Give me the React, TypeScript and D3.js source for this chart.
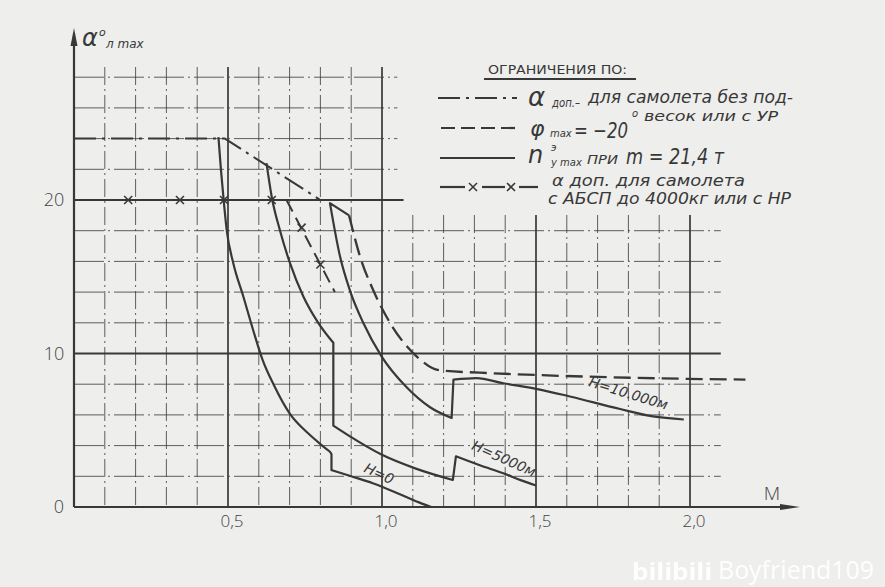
import React from 'react';
import * as d3 from 'd3';

const W = 885;
const H = 587;

// axis ticks
const machTicks = [0.5, 1.0, 1.5, 2.0];
const machTickLabels = ['0,5', '1,0', '1,5', '2,0'];
const alphaTicks = [0, 10, 20];
const alphaTickLabels = ['0', '10', '20'];

// limit: alpha allowed, clean aircraft or with UR (dash-dot)
const alphaDopPts = [[0, 24], [0.49, 24], [0.8, 20]];
// limit: alpha allowed with ABSP up to 4000 kg or NR (x-line)
const abspPts = [[0, 20], [0.69, 20], [0.847, 14.0]];
const abspMarks = [[0.176, 20], [0.344, 20], [0.487, 20], [0.642, 20], [0.739, 18.2], [0.8, 15.8]];
// limit: phi max = -20 deg (dashed)
const phiMaxPts = [[0.893, 19.0], [0.929, 16.3], [0.972, 14.1], [1.026, 12.0], [1.113, 9.8], [1.188, 8.9], [1.318, 8.75], [1.5, 8.6], [1.99, 8.35], [2.18, 8.3]];
// limit: ny max at m = 21.4 t, pieces joined by straight jumps
const h0Pieces = [
  [[0.469, 24.1], [0.477, 22], [0.485, 20.2], [0.496, 18], [0.517, 15.9], [0.55, 13.7], [0.582, 11.5], [0.612, 9.6], [0.65, 7.9], [0.7, 6.1], [0.76, 4.8], [0.8, 4.1], [0.831, 3.6]],
  [[0.836, 3.45], [0.836, 2.4]],
  [[0.837, 2.4], [0.9, 2.0], [0.97, 1.55], [1.05, 0.9], [1.12, 0.3], [1.16, 0]],
];
const h5000Pieces = [
  [[0.625, 22.4], [0.642, 20.2], [0.669, 18], [0.701, 15.9], [0.745, 13.7], [0.793, 12], [0.842, 10.7]],
  [[0.842, 5.3], [0.896, 4.6], [1.0, 3.4], [1.11, 2.5], [1.23, 1.76]],
  [[1.24, 3.3], [1.32, 2.7], [1.394, 2.2], [1.45, 1.75], [1.5, 1.4]],
];
const h10000Pieces = [
  [[0.893, 19.0], [0.831, 19.8]],
  [[0.831, 19.8], [0.864, 16.3], [0.896, 14.1], [0.939, 12.0], [0.999, 9.8], [1.08, 7.8], [1.156, 6.5], [1.226, 5.8]],
  [[1.232, 8.3], [1.307, 8.4], [1.394, 8.06], [1.5, 7.7], [1.61, 7.2], [1.77, 6.4], [1.88, 5.9], [1.98, 5.7]],
];

const ink = '#383838';
const paper = '#eeeeec';

function App() {
  const x = d3.scaleLinear().domain([0, 2]).range([74, 690]);
  const y = d3.scaleLinear().domain([0, 20]).range([507, 200]);

  const straight = d3.line().x((d) => x(d[0])).y((d) => y(d[1]));
  const smooth = d3.line().x((d) => x(d[0])).y((d) => y(d[1])).curve(d3.curveMonotoneX);

  const piecesPath = (pieces) =>
    pieces.map((p, i) => {
      const d = p.length > 2 ? smooth(p) : straight(p);
      return i === 0 ? d : d.replace(/^M/, 'L');
    }).join('');

  const gridLeftM = d3.range(1, 11).map((i) => i / 10);
  const gridRightM = d3.range(11, 21).map((i) => i / 10);
  const gridUpperA = [22, 24, 26, 28];
  const gridLowerA = [2, 4, 6, 8, 10, 12, 14, 16, 18];
  const major = (v) => Math.abs(v * 2 - Math.round(v * 2)) < 1e-6;

  const cross = (cx, cy, key) => (
    <g key={key} stroke={ink} strokeWidth={1.6}>
      <line x1={cx - 4} y1={cy - 4} x2={cx + 4} y2={cy + 4} />
      <line x1={cx - 4} y1={cy + 4} x2={cx + 4} y2={cy - 4} />
    </g>
  );

  const txt = { fontFamily: 'DejaVu Sans', fill: ink, fontStyle: 'italic' };
  const num = { fontFamily: 'Open Sans', fontWeight: 300, fill: '#444' };

  return (
    <svg width={W} height={H} style={{ position: 'absolute', left: 0, top: 0 }} xmlns="http://www.w3.org/2000/svg">
      <rect width={W} height={H} fill={paper} />

      {/* grid */}
      <g fill="none">
        {gridLeftM.map((m) => (
          <line key={'vl' + m} x1={x(m)} x2={x(m)} y1={67} y2={y(0)}
            stroke={ink} strokeWidth={major(m) ? 1.7 : 1} strokeDasharray={major(m) ? null : '18,4,2,4'} opacity={major(m) ? 1 : 0.8} />
        ))}
        {gridRightM.map((m) => (
          <line key={'vr' + m} x1={x(m)} x2={x(m)} y1={215} y2={y(0)}
            stroke={ink} strokeWidth={major(m) ? 1.7 : 1} strokeDasharray={major(m) ? null : '18,4,2,4'} opacity={major(m) ? 1 : 0.8} />
        ))}
        {gridUpperA.map((a) => (
          <line key={'hu' + a} x1={x(0)} x2={x(1.05)} y1={y(a)} y2={y(a)}
            stroke={ink} strokeWidth={1} strokeDasharray="30,4,2,4" opacity={0.8} />
        ))}
        <line x1={x(0)} x2={x(1.07)} y1={y(20)} y2={y(20)} stroke={ink} strokeWidth={1.8} />
        {gridLowerA.map((a) => (
          <line key={'hl' + a} x1={x(0)} x2={x(2.1)} y1={y(a)} y2={y(a)}
            stroke={ink} strokeWidth={a === 10 ? 1.8 : 1} strokeDasharray={a === 10 ? null : '30,4,2,4'} opacity={a === 10 ? 1 : 0.8} />
        ))}
      </g>

      {/* axes */}
      <g stroke={ink} strokeWidth={2.2}>
        <line x1={x(0)} x2={x(0)} y1={y(0)} y2={36} />
        <line x1={x(0)} x2={792} y1={y(0)} y2={y(0)} />
      </g>
      <path d={`M${x(0)},28 L${x(0) - 3.5},46 L${x(0) + 3.5},46 Z`} fill={ink} />
      <path d={`M800,${y(0)} L780,${y(0) - 3} L780,${y(0) + 3} Z`} fill={ink} />

      {machTicks.map((m, i) => (
        <text key={'mt' + m} x={x(m) + 4} y={527} textAnchor="middle" fontSize={17} {...num}>{machTickLabels[i]}</text>
      ))}
      {alphaTicks.map((a, i) => (
        <text key={'at' + a} x={i === 0 ? 59 : 54} y={y(a) + 6} textAnchor="middle" fontSize={18} {...num}>{alphaTickLabels[i]}</text>
      ))}
      <text x={772} y={500} textAnchor="middle" fontSize={19} {...num}>M</text>

      {/* y axis title */}
      <text x={82} y={46} fontSize={24} {...txt}>α</text>
      <text x={99} y={36} fontSize={11} {...txt}>o</text>
      <text x={106} y={48} fontSize={12} {...txt}>л max</text>

      {/* curves */}
      <g fill="none" stroke={ink} strokeLinejoin="round">
        <path d={straight(alphaDopPts)} strokeWidth={2} strokeDasharray="22,6,3,6" />
        <path d={straight(abspPts.slice(0, 2))} strokeWidth={2} />
        <path d={straight(abspPts.slice(1))} strokeWidth={2} strokeDasharray="13,7" />
        <path d={smooth(phiMaxPts)} strokeWidth={2.3} strokeDasharray="17,7" />
        <path d={piecesPath(h0Pieces)} strokeWidth={2.2} />
        <path d={piecesPath(h5000Pieces)} strokeWidth={2.2} />
        <path d={piecesPath(h10000Pieces)} strokeWidth={2.2} />
      </g>
      {abspMarks.map((p, i) => cross(x(p[0]), y(p[1]), 'xm' + i))}

      {/* curve labels */}
      <text transform={`translate(377,478) rotate(25)`} textAnchor="middle" fontSize={14} {...txt}>H=0</text>
      <text transform={`translate(502,463) rotate(24)`} textAnchor="middle" fontSize={14} {...txt}>H=5000м</text>
      <text transform={`translate(627,398) rotate(17)`} textAnchor="middle" fontSize={14} {...txt}>H=10.000м</text>

      {/* legend */}
      <text x={488} y={74} fontSize={13} textLength={139} lengthAdjust="spacingAndGlyphs" fontFamily="DejaVu Sans" fill={ink}>ОГРАНИЧЕНИЯ ПО:</text>
      <line x1={484} x2={636} y1={79} y2={79} stroke={ink} strokeWidth={1.8} />

      <g fill="none" stroke={ink} strokeWidth={2.2}>
        <line x1={438} x2={517} y1={98} y2={98} strokeDasharray="22,6,3,6" />
        <line x1={441} x2={515} y1={128} y2={128} strokeDasharray="14,6" />
        <line x1={440} x2={515} y1={158} y2={158} />
        <line x1={440} x2={465} y1={187} y2={187} />
        <line x1={482} x2={505} y1={187} y2={187} />
        <line x1={519} x2={538} y1={187} y2={187} />
      </g>
      {cross(473, 187, 'lx1')}
      {cross(511, 187, 'lx2')}

      <text x={528} y={106} fontSize={26} {...txt}>α</text>
      <text x={552} y={107} fontSize={12} textLength={28} lengthAdjust="spacingAndGlyphs" {...txt}>доп.–</text>
      <text x={588} y={103} fontSize={17} textLength={205} lengthAdjust="spacingAndGlyphs" {...txt}>для самолета без под-</text>
      <text x={644} y={121} fontSize={14} textLength={134} lengthAdjust="spacingAndGlyphs" {...txt}>весок или с УР</text>

      <text x={530} y={136} fontSize={22} {...txt}>φ</text>
      <text x={550} y={137} fontSize={10} {...txt}>max</text>
      <text x={574} y={138} fontSize={22} textLength={54} lengthAdjust="spacingAndGlyphs" {...txt}>= −20</text>
      <text x={632} y={117} fontSize={10} {...txt}>o</text>

      <text x={528} y={163} fontSize={24} {...txt}>n</text>
      <text x={551} y={151} fontSize={10} {...txt}>э</text>
      <text x={551} y={166} fontSize={10} {...txt}>y max</text>
      <text x={587} y={164} fontSize={12} textLength={31} lengthAdjust="spacingAndGlyphs" {...txt}>ПРИ</text>
      <text x={626} y={164} fontSize={22} textLength={98} lengthAdjust="spacingAndGlyphs" {...txt}>m = 21,4 т</text>

      <text x={552} y={186} fontSize={15.5} textLength={193} lengthAdjust="spacingAndGlyphs" {...txt}>α доп. для самолета</text>
      <text x={548} y={204} fontSize={15.5} textLength={243} lengthAdjust="spacingAndGlyphs" {...txt}>с АБСП до 4000кг или с НР</text>

      {/* watermark */}
      <text x={632} y={580} fontSize={24} fontWeight="bold" textLength={80} lengthAdjust="spacingAndGlyphs" fontFamily="Noto Sans" fill="#ffffff" opacity={0.95}>bilibili</text>
      <text x={718} y={579} fontSize={26} textLength={156} lengthAdjust="spacingAndGlyphs" fontFamily="Noto Sans" fill="#ffffff" opacity={0.95}>Boyfriend109</text>
    </svg>
  );
}

export default App;
